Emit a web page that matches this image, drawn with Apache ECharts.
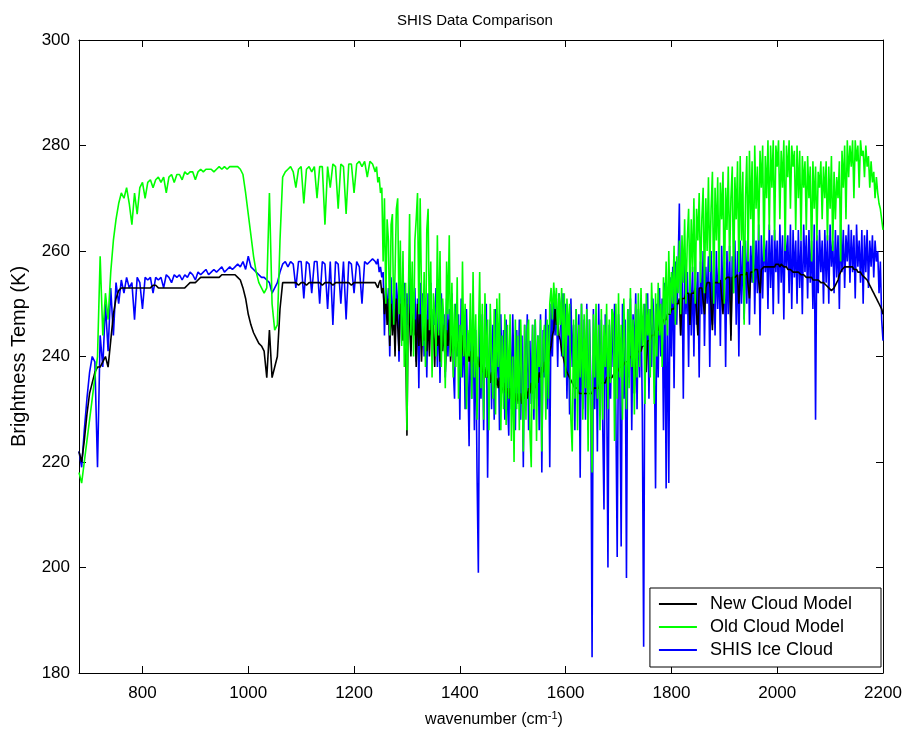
<!DOCTYPE html>
<html>
<head>
<meta charset="utf-8">
<title>SHIS Data Comparison</title>
<script src="https://cdn.jsdelivr.net/npm/echarts@6/dist/echarts.min.js"></script>
<style>
  html, body { margin: 0; padding: 0; background: #fff; }
  #chart { width: 905px; height: 733px; }
</style>
</head>
<body>
<div id="chart"></div>
<script>
// Spectral sample positions (cm^-1): 5 cm^-1 spacing up to 1235, 2.5 cm^-1 beyond
const wavenumber = [
  680,685,690,695,700,705,710,715,720,725,
  730,735,740,745,750,755,760,765,770,775,
  780,785,790,795,800,805,810,815,820,825,
  830,835,840,845,850,855,860,865,870,875,
  880,885,890,895,900,905,910,915,920,925,
  930,935,940,945,950,955,960,965,970,975,
  980,985,990,995,1000,1005,1010,1015,1020,1025,
  1030,1035,1040,1045,1050,1055,1060,1065,1070,1075,
  1080,1085,1090,1095,1100,1105,1110,1115,1120,1125,
  1130,1135,1140,1145,1150,1155,1160,1165,1170,1175,
  1180,1185,1190,1195,1200,1205,1210,1215,1220,1225,
  1230,1235,
  1240,1242.5,1245,1247.5,1250,1252.5,1255,1257.5,1260,1262.5,1265,1267.5,1270,1272.5,1275,1277.5,1280,1282.5,1285,1287.5,
  1290,1292.5,1295,1297.5,1300,1302.5,1305,1307.5,1310,1312.5,1315,1317.5,1320,1322.5,1325,1327.5,1330,1332.5,1335,1337.5,
  1340,1342.5,1345,1347.5,1350,1352.5,1355,1357.5,1360,1362.5,1365,1367.5,1370,1372.5,1375,1377.5,1380,1382.5,1385,1387.5,
  1390,1392.5,1395,1397.5,1400,1402.5,1405,1407.5,1410,1412.5,1415,1417.5,1420,1422.5,1425,1427.5,1430,1432.5,1435,1437.5,
  1440,1442.5,1445,1447.5,1450,1452.5,1455,1457.5,1460,1462.5,1465,1467.5,1470,1472.5,1475,1477.5,1480,1482.5,1485,1487.5,
  1490,1492.5,1495,1497.5,1500,1502.5,1505,1507.5,1510,1512.5,1515,1517.5,1520,1522.5,1525,1527.5,1530,1532.5,1535,1537.5,
  1540,1542.5,1545,1547.5,1550,1552.5,1555,1557.5,1560,1562.5,1565,1567.5,1570,1572.5,1575,1577.5,1580,1582.5,1585,1587.5,
  1590,1592.5,1595,1597.5,1600,1602.5,1605,1607.5,1610,1612.5,1615,1617.5,1620,1622.5,1625,1627.5,1630,1632.5,1635,1637.5,
  1640,1642.5,1645,1647.5,1650,1652.5,1655,1657.5,1660,1662.5,1665,1667.5,1670,1672.5,1675,1677.5,1680,1682.5,1685,1687.5,
  1690,1692.5,1695,1697.5,1700,1702.5,1705,1707.5,1710,1712.5,1715,1717.5,1720,1722.5,1725,1727.5,1730,1732.5,1735,1737.5,
  1740,1742.5,1745,1747.5,1750,1752.5,1755,1757.5,1760,1762.5,1765,1767.5,1770,1772.5,1775,1777.5,1780,1782.5,1785,1787.5,
  1790,1792.5,1795,1797.5,1800,1802.5,1805,1807.5,1810,1812.5,1815,1817.5,1820,1822.5,1825,1827.5,1830,1832.5,1835,1837.5,
  1840,1842.5,1845,1847.5,1850,1852.5,1855,1857.5,1860,1862.5,1865,1867.5,1870,1872.5,1875,1877.5,1880,1882.5,1885,1887.5,
  1890,1892.5,1895,1897.5,1900,1902.5,1905,1907.5,1910,1912.5,1915,1917.5,1920,1922.5,1925,1927.5,1930,1932.5,1935,1937.5,
  1940,1942.5,1945,1947.5,1950,1952.5,1955,1957.5,1960,1962.5,1965,1967.5,1970,1972.5,1975,1977.5,1980,1982.5,1985,1987.5,
  1990,1992.5,1995,1997.5,2000,2002.5,2005,2007.5,2010,2012.5,2015,2017.5,2020,2022.5,2025,2027.5,2030,2032.5,2035,2037.5,
  2040,2042.5,2045,2047.5,2050,2052.5,2055,2057.5,2060,2062.5,2065,2067.5,2070,2072.5,2075,2077.5,2080,2082.5,2085,2087.5,
  2090,2092.5,2095,2097.5,2100,2102.5,2105,2107.5,2110,2112.5,2115,2117.5,2120,2122.5,2125,2127.5,2130,2132.5,2135,2137.5,
  2140,2142.5,2145,2147.5,2150,2152.5,2155,2157.5,2160,2162.5,2165,2167.5,2170,2172.5,2175,2177.5,2180,2182.5,2185,2187.5,
  2190,2192.5,2195,2197.5,2200
];

// Brightness temperature (K), new cloud model
const newCloudModel = [
  222,220,224,229,233,235,237,238,238,239,
  240,238,243,248,251,252.5,253,253,253,253,
  253,253,253,253,253,253,253,253,253.5,253.5,
  253,253,253,253,253,253,253,253,253,253,
  253,253.5,254,254,254,254.5,255,255,255,255,
  255,255,255,255,255.5,255.5,255.5,255.5,255.5,255.5,
  255,254.5,253,251,248,246,244.5,243.5,242.5,242,
  241,236,245,236,238,240,249,254,254,254,
  254,254,254,253.5,254,254,253.5,254,254,254,
  254,254,253.5,254,254,254,253.5,254,254,254,
  254,254,254,253.5,254,254,254,254,254,254,
  254,254,
  254,253.5,253,254,254.5,252,253,248,252,246,251,242,250,244,249,240,251,246,241,250,
  249,243,251,244,225,250,247,240,249,244,247,238,250,242,248,239,246,243,248,241,
  247,240,248,243,246,238,247,242,245,239,248,241,246,237,245,242,247,239,244,241,
  245,240,244,241,243,239,244,240,242,238,243,239,241,238,242,239,241,237,240,238,
  239,237,239,236,238,236,238,235,237,235,237,234,236,234,236,233,235,233,235,233,
  234,232,234,232,233,231,233,231,233,231,233,231,233,232,234,232,234,233,235,233,
  235,234,236,235,237,236,238,237,239,238,240,239,241,242,244,245,249,246,247,244,
  243,241,240,239,238,237,237,236,236,235,235,234,234,234,233,233,233,233,233,233,
  233,233,233,233,233,234,234,234,234,234,235,235,235,235,235,236,236,236,236,236,
  236,237,237,237,237,238,238,238,238,239,239,239,239,240,240,240,233,240,240,241,
  241,241,242,242,242,237,243,243,243,244,244,244,245,245,245,246,246,246,247,247,
  247,248,248,248,249,249,249,250,250,250,251,244,251,251,251,252,252,252,246,252,
  252,252,253,253,244,253,253,253,253,248,253,254,254,254,254,245,254,254,254,254,
  254,254.5,254.5,248,254.5,254.5,255,255,255,243,255,255,255,255,255.5,250,255.5,255.5,255.5,255.5,
  255.5,256,256,251,256,256,256,256.5,256.5,256.5,256.5,252,256.5,256.5,257,257,257,257,257,257,
  257,257,257,257.5,257.5,257.5,257,257.5,257.5,257,257,257,256.5,256.5,256.5,256.5,256,256,256,256,
  256,256,255.5,255.5,255.5,255.5,255,255,255,255,255,254.5,254.5,254.5,254.5,254.5,254.5,254,254,254,
  254,253.5,253.5,253,253,252.5,252.5,253,253,254,254.5,255.5,256,256.5,256.5,257,257,257,257,257,
  257,257,256.5,256.5,256.5,256,256,256,255.5,255.5,255,255,254.5,254,253.5,253,252.5,252,251.5,251,
  250.5,250,249.5,249,248
];

// Brightness temperature (K), old cloud model
const oldCloudModel = [
  218,216,220,224,228,232,236,240,259,244,
  252,247,256,262,266,269,271,270,272,269,
  265,271,267,272,273,270,273,273.5,272,273.5,
  274,273,274,271,274,274.5,273,274.5,274.5,273.5,
  275,274.5,275,275,273.5,275,275.5,275,275.5,275.5,
  275.5,275,275.5,276,275.5,276,275.5,276,276,276,
  276,275.5,274.5,271,267,263,259,256,254,253,
  252,253,271,250,245,246,262,274,275,275.5,
  276,275,272,275.5,276,269,275.5,276,275,276,
  270,276,276,265,276,272,276.5,276,268,276.5,
  276,267,276.5,276.5,271,276.5,277,276,277,274,
  277,276.5,
  275,276,273,274,271,272,258,270,250,266,262,244,265,267,246,256,268,270,248,262,
  242,260,238,254,226,250,267,244,258,240,262,266,271,248,270,252,242,256,238,264,
  268,245,258,236,252,248,240,263,244,260,238,251,246,234,258,248,263,240,254,236,
  250,238,255,232,246,236,258,240,250,230,245,240,252,232,256,236,248,228,243,256,
  234,250,228,252,236,247,226,250,240,232,249,229,251,238,252,226,244,230,248,227,
  246,232,248,224,240,220,247,230,244,226,247,236,222,246,228,245,247,226,219,246,
  230,247,224,244,238,247,222,243,246,228,247,232,250,253,247,254,249,253,244,252,
  246,253,240,252,236,251,244,250,228,222,247,232,249,226,246,236,250,228,248,234,
  249,222,247,230,218,248,236,250,232,246,226,249,228,246,238,250,230,247,235,249,
  248,224,250,232,252,236,246,228,251,240,230,249,234,253,238,247,229,250,236,252,
  238,253,242,250,231,252,244,249,236,254,246,231,252,240,254,244,250,238,255,246,
  258,244,260,248,256,250,261,246,259,252,262,248,263,254,266,250,262,268,252,266,
  256,270,250,268,262,271,254,266,272,252,270,260,274,256,268,275,250,272,262,274,
  254,273,266,275,250,272,264,276,258,270,276,252,274,266,277,256,278,262,275,246,
  270,278,258,279,266,277,254,280,268,276,262,279,272,280,258,278,270,281,264,280,
  272,281,262,280,276,281,266,279,272,281,260,280,274,281,268,280,276,279,264,280,
  270,279,262,278,272,277,264,278,270,276,258,277,268,276,262,275,272,277,266,276,
  270,277,262,276,268,278,260,275,266,274,270,277,258,279,272,280,266,281,274,280,
  276,281,270,281,277,280,272,281,278,279,274,280,276,278,272,277,273,275,270,274,
  271,269,268,266,264
];

// Brightness temperature (K), SHIS ice cloud measurement
const shisIceCloud = [
  222,219,226,232,237,240,239,219,244,238,
  250,241,253,244,254,250,254.5,252,255,253,
  254,247,255,254,249,255,254.5,255,252,255,
  254.5,255,253,255.5,255,254,255.5,255,255.5,254.5,
  255.5,255,256,255.5,254.5,256,255.5,256,256.5,255.5,
  256,256.5,256,256.5,257,256,256.5,257,256.5,257,
  257.5,257,258,256.5,259,257,256.5,256,255.5,255,
  255,254.5,254,252,253,254,256,257.5,258,257,
  258,257.5,253,258,258,251,258,257.5,252,258,
  258,250,258,257.5,249,258,246,258,257.5,250,
  258,247,258,257.5,252,258,257,250,258,257.5,
  258,258.5,
  258,257.5,258.5,256,257,255,256,244,254,248,253,240,255,246,252,242,254,250,239,253,
  251,244,254,240,252,246,255,241,250,245,253,239,251,234,254,243,252,240,250,236,
  252,244,254,240,249,246,253,238,250,235,252,242,248,236,251,240,249,244,252,238,
  232,250,240,248,228,251,236,246,230,249,238,223,247,232,250,226,245,218,199,246,
  232,248,226,244,250,217,240,247,230,246,228,249,236,244,226,248,234,245,228,247,
  232,225,246,230,248,236,226,245,232,247,228,244,219,246,234,248,226,243,231,246,
  228,247,232,244,226,248,218,245,236,249,230,246,219,250,240,252,244,251,238,252,
  249,240,252,236,250,232,247,229,251,238,246,226,249,234,248,217,250,230,247,228,
  250,226,247,236,183,249,230,246,222,250,234,247,228,211,248,236,200,246,232,249,
  238,250,229,202,248,236,204,250,232,247,198,249,236,251,226,248,240,252,230,249,
  236,251,229,185,250,240,252,232,249,238,251,244,215,250,236,253,240,251,226,254,
  215,252,216,255,240,257,234,258,246,256,269,244,257,232,258,248,256,238,259,244,
  257,240,259,246,256,236,258,248,260,242,257,250,259,238,260,246,258,244,260,249,
  259,242,261,250,258,238,260,248,261,244,259,252,262,246,260,240,262,250,261,247,
  262,250,263,246,261,254,264,248,262,252,265,244,263,251,264,256,262,249,265,253,
  263,248,264,256,262,250,265,254,263,247,264,257,263,252,265,249,264,255,262,250,
  264,253,262,248,265,256,263,251,264,254,262,249,265,228,263,252,264,256,262,250,
  264,254,263,250,265,257,262,252,264,255,263,249,265,256,264,253,263,258,265,254,
  264,256,263,251,265,257,262,254,264,250,263,256,264,253,262,257,263,255,262,258,
  260,252,258,247,243
];

// Axis tick positions
const xTicks = [800, 1000, 1200, 1400, 1600, 1800, 2000, 2200];

const seriesNames = ['New Cloud Model', 'Old Cloud Model', 'SHIS Ice Cloud'];
const seriesValues = [newCloudModel, oldCloudModel, shisIceCloud];
const seriesColors = ['#000000', '#00ff00', '#0000ff'];
// Stacking: measurement underneath, model curves drawn over it
const seriesZ = [3, 4, 2];

const FONT = 'Liberation Sans, Arial, sans-serif';

function pairs(values) {
  return wavenumber.map((w, i) => [w, values[i]]);
}

const chart = echarts.init(document.getElementById('chart'), null, { renderer: 'canvas' });

const plainNumber = v => String(v);

const xBase = {
  type: 'value',
  min: 680,
  max: 2200,
  splitLine: { show: false },
  axisLine: { show: true, onZero: false, lineStyle: { color: '#000', width: 1 } },
  axisTick: { show: true, inside: true, length: 7, customValues: xTicks, lineStyle: { color: '#000' } }
};
const yBase = {
  type: 'value',
  min: 180,
  max: 300,
  interval: 20,
  splitLine: { show: false },
  axisLine: { show: true, onZero: false, lineStyle: { color: '#000', width: 1 } },
  axisTick: { show: true, inside: true, length: 7, lineStyle: { color: '#000' } }
};

chart.setOption({
  animation: false,
  backgroundColor: '#ffffff',
  title: {
    text: 'SHIS Data Comparison',
    left: 392,
    top: 8,
    textStyle: { fontFamily: FONT, fontSize: 15, fontWeight: 'normal', color: '#000' }
  },
  grid: { left: 79, right: 22, top: 40, bottom: 59, containLabel: false },
  legend: {
    data: seriesNames,
    orient: 'vertical',
    right: 24,
    bottom: 66,
    padding: [7, 29, 8, 8],
    itemGap: 5,
    itemWidth: 38,
    itemHeight: 15,
    itemStyle: { opacity: 0 },
    backgroundColor: '#ffffff',
    borderColor: '#000000',
    borderWidth: 1,
    borderRadius: 0,
    z: 10,
    textStyle: { fontFamily: FONT, fontSize: 18, color: '#000', padding: [0, 0, 0, 8] }
  },
  xAxis: [
    Object.assign({}, xBase, {
      position: 'bottom',
      name: 'wavenumber (cm{sup|-1})',
      nameLocation: 'middle',
      nameGap: 37,
      nameTextStyle: {
        fontFamily: FONT, fontSize: 16, color: '#000', padding: [0, 0, 0, 26],
        rich: { sup: { fontFamily: FONT, fontSize: 11, color: '#000', verticalAlign: 'top', padding: [0, 0, 9, 0] } }
      },
      axisLabel: { show: true, customValues: xTicks, formatter: plainNumber, margin: 12, fontFamily: FONT, fontSize: 17, color: '#000' }
    }),
    Object.assign({}, xBase, { position: 'top', axisLabel: { show: false } })
  ],
  yAxis: [
    Object.assign({}, yBase, {
      position: 'left',
      name: 'Brightness Temp (K)',
      nameLocation: 'middle',
      nameGap: 50,
      nameRotate: 90,
      nameTextStyle: { fontFamily: FONT, fontSize: 20, color: '#000' },
      axisLabel: { show: true, formatter: plainNumber, margin: 9, fontFamily: FONT, fontSize: 17, color: '#000' }
    }),
    Object.assign({}, yBase, { position: 'right', axisLabel: { show: false } })
  ],
  series: seriesNames.map((name, k) => ({
    name: name,
    type: 'line',
    data: pairs(seriesValues[k]),
    showSymbol: false,
    symbol: 'none',
    color: seriesColors[k],
    lineStyle: { color: seriesColors[k], width: 1.6 },
    z: seriesZ[k]
  }))
});
</script>
</body>
</html>
